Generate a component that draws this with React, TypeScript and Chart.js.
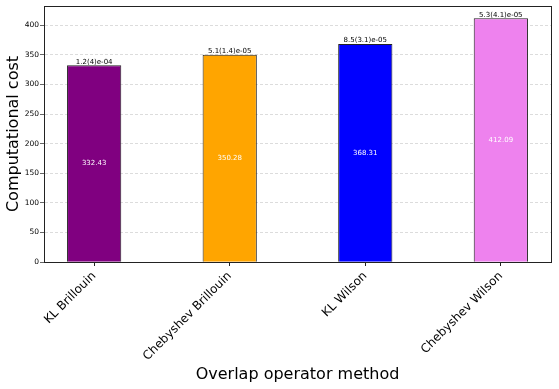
import React, { useEffect, useRef } from "react";
import { Chart, registerables } from "chart.js";

Chart.register(...registerables);

const categories = ["KL Brillouin", "Chebyshev Brillouin", "KL Wilson", "Chebyshev Wilson"];
const costs = [332.43, 350.28, 368.31, 412.09];
const errorLabels = ["1.2(4)e-04", "5.1(1.4)e-05", "8.5(3.1)e-05", "5.3(4.1)e-05"];
const barColors = ["#800080", "#FFA500", "#0000FF", "#EE82EE"];
const yTicks = [0, 50, 100, 150, 200, 250, 300, 350, 400];

const FONT = "'DejaVu Sans', sans-serif";

const annotatePlugin = {
  id: "annotate",
  afterDatasetsDraw(chart: any) {
    const ctx = chart.ctx;
    const meta = chart.getDatasetMeta(0);
    ctx.save();
    meta.data.forEach((bar: any, i: number) => {
      ctx.font = `7px ${FONT}`;
      ctx.textAlign = "center";
      ctx.fillStyle = "#000";
      ctx.textBaseline = "bottom";
      ctx.fillText(errorLabels[i], bar.x, bar.y);
      ctx.fillStyle = "#fff";
      ctx.textBaseline = "middle";
      ctx.fillText(costs[i].toFixed(2), bar.x, (bar.y + bar.base) / 2);
    });
    const a = chart.chartArea;
    ctx.strokeStyle = "#222";
    ctx.lineWidth = 1;
    ctx.setLineDash([]);
    ctx.strokeRect(Math.round(a.left) + 0.5, Math.round(a.top) + 0.5, Math.round(a.right - a.left), Math.round(a.bottom - a.top));
    ctx.restore();
  },
};

export default function App() {
  const ref = useRef<HTMLCanvasElement>(null);
  useEffect(() => {
    document.body.style.margin = "0";
    const chart = new Chart(ref.current!, {
      type: "bar",
      data: {
        datasets: [
          {
            data: costs.map((v, i) => ({ x: i, y: v })),
            backgroundColor: barColors,
            borderColor: "#222",
            borderWidth: 1,
            barPercentage: 0.4,
            categoryPercentage: 1,
          },
        ],
      },
      options: {
        animation: false,
        responsive: false,
        maintainAspectRatio: false,
        layout: { padding: { top: 6, right: 8, left: 0, bottom: 0 } },
        plugins: { legend: { display: false }, tooltip: { enabled: false } },
        scales: {
          x: {
            type: "linear",
            offset: false,
            min: -0.37,
            max: 3.37,
            afterBuildTicks: (scale: any) => {
              scale.ticks = categories.map((_, i) => ({ value: i }));
            },
            afterFit: (scale: any) => {
              scale.height = 127;
            },
            ticks: {
              callback: (v: any) => categories[v as number] ?? "",
              minRotation: 45,
              maxRotation: 45,
              autoSkip: false,
              padding: 3,
              color: "#000",
              font: { family: FONT, size: 12 },
            },
            grid: { display: true, offset: false, drawOnChartArea: false, drawTicks: true, tickLength: 4, tickColor: "#222" },
            border: { display: true, color: "#222" },
            title: {
              display: true,
              text: "Overlap operator method",
              color: "#000",
              font: { family: FONT, size: 16 },
              padding: { top: 0, bottom: 4.4 },
            },
          },
          y: {
            min: 0,
            max: 432.7,
            afterBuildTicks: (scale: any) => {
              scale.ticks = yTicks.map((v) => ({ value: v }));
            },
            afterFit: (scale: any) => {
              scale.width = 44;
            },
            ticks: {
              padding: 1,
              color: "#000",
              font: { family: FONT, size: 7.5 },
            },
            grid: {
              color: "rgba(170,170,170,0.6)",
              tickBorderDash: [1, 0],
              tickColor: "#222",
              tickLength: 4,
              lineWidth: 0.7,
            } as any,
            border: { display: true, color: "#222", dash: [3, 2] } as any,
            title: {
              display: true,
              text: "Computational cost",
              color: "#000",
              font: { family: FONT, size: 16 },
              padding: { top: 4.4, bottom: 0 },
            },
          },
        },
      },
      plugins: [annotatePlugin],
    } as any);
    return () => chart.destroy();
  }, []);
  return (
    <div style={{ position: "absolute", left: 0, top: 0, width: 559, height: 389 }}>
      <canvas ref={ref} width={559} height={389} style={{ width: 559, height: 389 }} />
    </div>
  );
}
